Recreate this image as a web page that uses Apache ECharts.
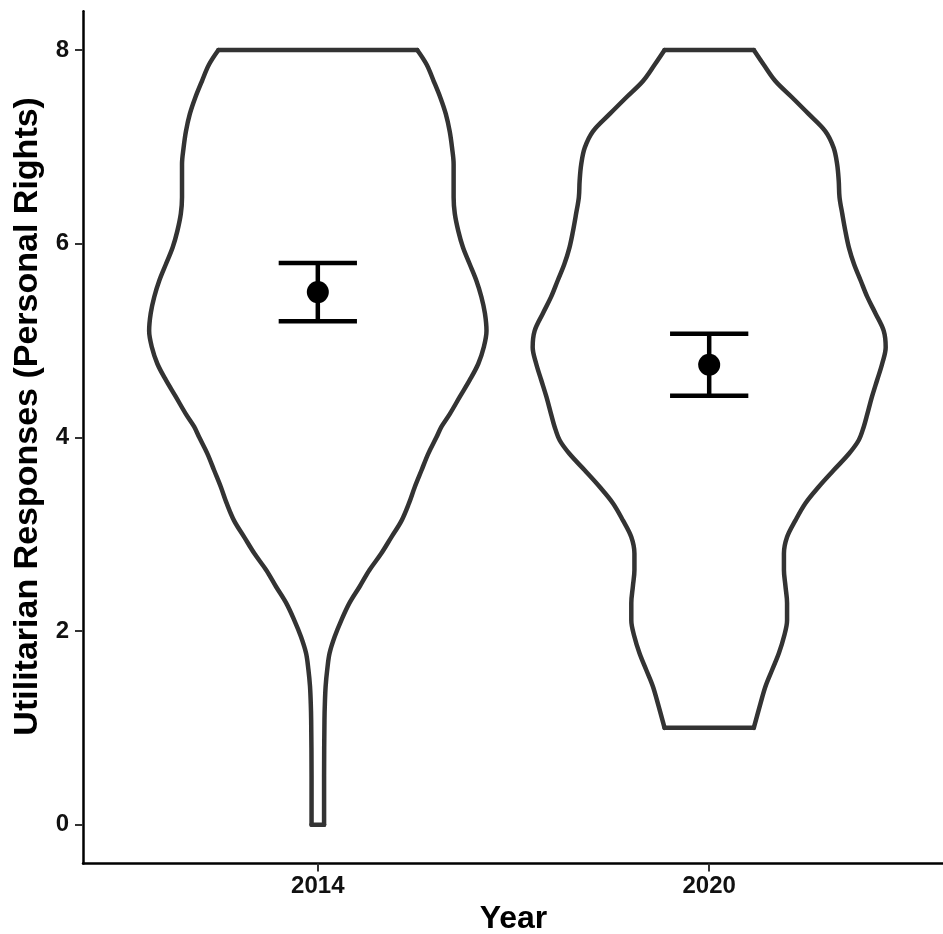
<!DOCTYPE html>
<html>
<head>
<meta charset="utf-8">
<script src="https://cdn.jsdelivr.net/npm/echarts@6/dist/echarts.min.js"></script>
<style>
html,body{margin:0;padding:0;background:#fff;}
#chart{width:943px;height:934px;}
</style>
</head>
<body>
<div id="chart"></div>
<script>
// ---- data ----
const years = ['2014', '2020'];
const yTicks = [0, 2, 4, 6, 8];

// violin outline: response level and half-width (x units) of the density
const levels2014 = [8.00,7.85,7.68,7.51,7.34,7.16,6.99,6.82,6.65,6.48,6.31,6.13,5.96,5.79,5.62,5.45,5.28,5.10,4.93,4.76,4.59,4.42,4.24,4.11,4.00,3.83,3.66,3.49,3.32,3.14,2.97,2.80,2.63,2.46,2.29,2.11,1.94,1.77,1.60,1.43,1.25,1.08,0.50,0.00];
const half2014   = [0.254,0.278,0.296,0.313,0.327,0.337,0.343,0.347,0.347,0.347,0.350,0.359,0.371,0.388,0.405,0.418,0.427,0.431,0.424,0.410,0.388,0.363,0.337,0.316,0.303,0.282,0.265,0.248,0.233,0.214,0.188,0.162,0.132,0.107,0.081,0.060,0.043,0.030,0.024,0.020,0.018,0.017,0.016,0.016];

const levels2020 = [8.00,7.85,7.68,7.51,7.34,7.16,6.99,6.82,6.65,6.48,6.31,6.13,5.96,5.79,5.62,5.45,5.28,5.10,4.93,4.76,4.59,4.42,4.24,4.11,3.97,3.83,3.66,3.49,3.32,3.14,2.97,2.80,2.63,2.46,2.29,2.11,1.94,1.77,1.60,1.43,1.25,1.00];
const half2020   = [0.114,0.139,0.169,0.212,0.254,0.297,0.318,0.327,0.331,0.333,0.340,0.348,0.357,0.370,0.387,0.404,0.425,0.446,0.451,0.442,0.429,0.416,0.404,0.395,0.382,0.357,0.318,0.280,0.246,0.220,0.199,0.191,0.191,0.195,0.199,0.199,0.191,0.178,0.161,0.144,0.131,0.114];

const meanValues = [5.50, 4.75];
const ciLow      = [5.20, 4.43];
const ciHigh     = [5.80, 5.07];

// ---- build chart ----
const FONT = '"Liberation Sans", Arial, Helvetica, sans-serif';
const violinLine = { color: '#333333', width: 4.5, cap: 'round', join: 'round' };

function violinSeries(pos, levels, half) {
  const n = levels.length;
  const base = { type: 'line', symbol: 'none', silent: true, animation: false, lineStyle: violinLine, z: 2 };
  return [
    Object.assign({}, base, { smooth: 0.35, data: levels.map((y, k) => [pos - half[k], y]) }),
    Object.assign({}, base, { smooth: 0.35, data: levels.map((y, k) => [pos + half[k], y]) }),
    Object.assign({}, base, { data: [[pos - half[0], levels[0]], [pos + half[0], levels[0]]] }),
    Object.assign({}, base, { data: [[pos - half[n - 1], levels[n - 1]], [pos + half[n - 1], levels[n - 1]]] })
  ];
}

const series = [].concat(
  violinSeries(1, levels2014, half2014),
  violinSeries(2, levels2020, half2020)
);

series.push({
  type: 'custom',
  silent: true,
  animation: false,
  z: 3,
  encode: { x: 0, y: [1, 2] },
  data: years.map((_, i) => [i + 1, ciLow[i], ciHigh[i]]),
  renderItem: function (params, api) {
    const x = api.value(0);
    const lo = api.coord([x, api.value(1)]);
    const hi = api.coord([x, api.value(2)]);
    const half = api.size([0.1, 0])[0];
    const st = { stroke: '#000', lineWidth: 4.5 };
    return {
      type: 'group',
      children: [
        { type: 'line', shape: { x1: lo[0], y1: lo[1], x2: hi[0], y2: hi[1] }, style: st },
        { type: 'line', shape: { x1: lo[0] - half, y1: lo[1], x2: lo[0] + half, y2: lo[1] }, style: st },
        { type: 'line', shape: { x1: hi[0] - half, y1: hi[1], x2: hi[0] + half, y2: hi[1] }, style: st }
      ]
    };
  }
});

series.push({
  type: 'scatter',
  silent: true,
  animation: false,
  z: 4,
  symbol: 'circle',
  symbolSize: 22,
  itemStyle: { color: '#000', opacity: 1 },
  data: years.map((_, i) => [i + 1, meanValues[i]])
});

const chart = echarts.init(document.getElementById('chart'), null, { renderer: 'canvas' });
chart.setOption({
  backgroundColor: '#ffffff',
  animation: false,
  grid: { left: 83, top: 11.3, width: 861, height: 852.1, containLabel: false, outerBoundsMode: 'none' },
  xAxis: {
    type: 'value',
    min: 0.4,
    max: 2.6,
    name: 'Year',
    nameLocation: 'middle',
    nameGap: 40,
    nameTextStyle: { fontFamily: FONT, fontWeight: 'bold', fontSize: 32, color: '#000' },
    axisLine: { show: true, onZero: false, lineStyle: { color: '#000', width: 2.5 } },
    axisTick: { show: true, customValues: [1, 2], length: 8, lineStyle: { color: '#333', width: 2 } },
    axisLabel: {
      customValues: [1, 2],
      formatter: function (v) { return years[Math.round(v) - 1]; },
      margin: 11,
      fontFamily: FONT, fontWeight: 'bold', fontSize: 24, color: '#111'
    },
    splitLine: { show: false }
  },
  yAxis: {
    type: 'value',
    min: -0.4,
    max: 8.4,
    name: 'Utilitarian Responses (Personal Rights)',
    nameLocation: 'middle',
    nameRotate: 90,
    nameGap: 34,
    nameTextStyle: { fontFamily: FONT, fontWeight: 'bold', fontSize: 34, color: '#000', padding: [0, 0, 0, 42] },
    axisLine: { show: true, onZero: false, lineStyle: { color: '#000', width: 2.5 } },
    axisTick: { show: true, customValues: yTicks, length: 8, lineStyle: { color: '#333', width: 2 } },
    axisLabel: {
      customValues: yTicks,
      formatter: function (v) { return String(v); },
      margin: 14,
      fontFamily: FONT, fontWeight: 'bold', fontSize: 24, color: '#111'
    },
    splitLine: { show: false }
  },
  series: series
});
</script>
</body>
</html>
